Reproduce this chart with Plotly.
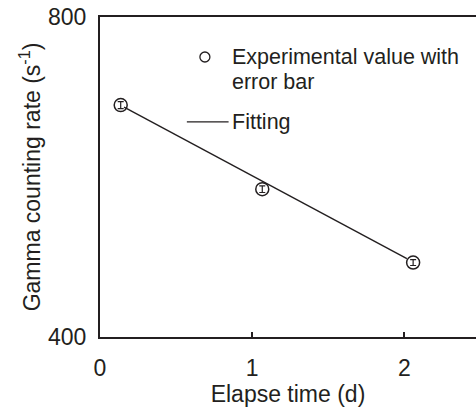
import plotly.graph_objects as go

# Measured gamma counting rates
elapse_days = [0.136, 1.066, 2.057]
count_rate = [661, 551, 470]
rate_err = [5, 4, 3]

# Exponential decay fit (straight on the log axis)
fit_days = [0.158, 2.016]
fit_rate = [658, 474]

x_ticks = [0, 1, 2]
y_ticks = [400, 800]

FONT = "Liberation Sans, Arial, Helvetica, sans-serif"
INK = "#231f20"

fig = go.Figure()

fig.add_trace(go.Scatter(
    x=fit_days, y=fit_rate, mode="lines",
    line=dict(color=INK, width=1.4),
    showlegend=False,
))

fig.add_trace(go.Scatter(
    x=elapse_days, y=count_rate, mode="markers",
    marker=dict(symbol="circle-open", size=13, color=INK,
                line=dict(width=1.5, color=INK)),
    error_y=dict(type="data", array=rate_err, color=INK,
                 thickness=1.2, width=3),
    showlegend=False,
))

# Legend drawn in paper coordinates
fig.add_shape(type="circle", xref="paper", yref="paper",
              xsizemode="pixel", ysizemode="pixel",
              xanchor=0.279, yanchor=0.875,
              x0=-5, x1=5, y0=-5, y1=5,
              line=dict(color=INK, width=1.3))
fig.add_shape(type="line", xref="paper", yref="paper",
              x0=0.231, x1=0.342, y0=0.672, y1=0.672,
              line=dict(color=INK, width=1.3))

legend_font = dict(family=FONT, size=21.5, color=INK)
fig.add_annotation(x=0.345, y=0.875, xref="paper", yref="paper",
                   text="Experimental value with", showarrow=False,
                   xanchor="left", yanchor="middle", font=legend_font)
fig.add_annotation(x=0.345, y=0.797, xref="paper", yref="paper",
                   text="error bar", showarrow=False,
                   xanchor="left", yanchor="middle", font=legend_font)
fig.add_annotation(x=0.345, y=0.672, xref="paper", yref="paper",
                   text="Fitting", showarrow=False,
                   xanchor="left", yanchor="middle", font=legend_font)

axis_font = dict(family=FONT, size=23, color=INK)

fig.update_xaxes(
    range=[0, 2.47], tickvals=x_ticks, ticktext=[str(v) for v in x_ticks],
    showline=True, linecolor=INK, linewidth=2, mirror=True,
    ticks="inside", ticklen=5, tickwidth=1.5, tickcolor=INK,
    showgrid=False, zeroline=False,
    tickfont=axis_font, ticklabelstandoff=9,
    title=dict(text="Elapse time (d)", font=axis_font, standoff=3),
)

fig.update_yaxes(
    type="log", range=[2.60206, 2.90309],
    tickvals=y_ticks, ticktext=[str(v) for v in y_ticks],
    showline=True, linecolor=INK, linewidth=2, mirror=False,
    ticks="", showgrid=False, zeroline=False,
    tickfont=axis_font, ticklabelstandoff=7,
    title=dict(text="Gamma counting rate (s<sup>-1</sup>)",
               font=axis_font, standoff=1),
)

fig.update_layout(
    width=476, height=415,
    margin=dict(l=100, r=0, t=17, b=78),
    plot_bgcolor="white", paper_bgcolor="white",
    font=dict(family=FONT, color=INK),
)

fig.write_html("out.html")
